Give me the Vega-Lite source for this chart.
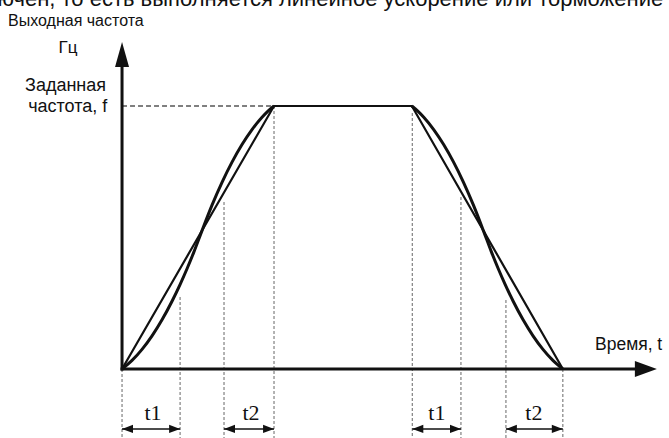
{
  "$schema": "https://vega.github.io/schema/vega-lite/v6.json",
  "width": 669,
  "height": 438,
  "autosize": "none",
  "padding": 0,
  "background": "white",
  "config": {"view": {"stroke": null}},
  "datasets": {
    "scurve": [
      {"phase": "acc", "t": 0, "f": 0},
      {"phase": "acc", "t": 0.658, "f": 3.25},
      {"phase": "acc", "t": 1.316, "f": 7.45},
      {"phase": "acc", "t": 1.974, "f": 12.6},
      {"phase": "acc", "t": 2.632, "f": 18.71},
      {"phase": "acc", "t": 3.289, "f": 25.76},
      {"phase": "acc", "t": 3.816, "f": 32.09},
      {"phase": "acc", "t": 4.276, "f": 38.12},
      {"phase": "acc", "t": 4.737, "f": 44.62},
      {"phase": "acc", "t": 5.263, "f": 52.62},
      {"phase": "acc", "t": 5.921, "f": 62.3},
      {"phase": "acc", "t": 6.579, "f": 70.98},
      {"phase": "acc", "t": 7.237, "f": 78.65},
      {"phase": "acc", "t": 7.895, "f": 85.33},
      {"phase": "acc", "t": 8.553, "f": 91.02},
      {"phase": "acc", "t": 9.211, "f": 95.7},
      {"phase": "acc", "t": 9.605, "f": 98.03},
      {"phase": "acc", "t": 10, "f": 100},
      {"phase": "dec", "t": 19.07, "f": 100},
      {"phase": "dec", "t": 19.462, "f": 98.03},
      {"phase": "dec", "t": 19.854, "f": 95.7},
      {"phase": "dec", "t": 20.507, "f": 91.02},
      {"phase": "dec", "t": 21.161, "f": 85.33},
      {"phase": "dec", "t": 21.815, "f": 78.65},
      {"phase": "dec", "t": 22.468, "f": 70.98},
      {"phase": "dec", "t": 23.122, "f": 62.3},
      {"phase": "dec", "t": 23.776, "f": 52.62},
      {"phase": "dec", "t": 24.298, "f": 44.62},
      {"phase": "dec", "t": 24.756, "f": 38.12},
      {"phase": "dec", "t": 25.213, "f": 32.09},
      {"phase": "dec", "t": 25.737, "f": 25.76},
      {"phase": "dec", "t": 26.39, "f": 18.71},
      {"phase": "dec", "t": 27.043, "f": 12.6},
      {"phase": "dec", "t": 27.697, "f": 7.45},
      {"phase": "dec", "t": 28.35, "f": 3.25},
      {"phase": "dec", "t": 29.004, "f": 0}
    ],
    "linear": [
      {"t": 0, "f": 0},
      {"t": 10, "f": 100},
      {"t": 19.07, "f": 100},
      {"t": 29.004, "f": 0}
    ],
    "vguides": [
      {"t": 0, "f": 0, "f2": -26.3},
      {"t": 3.82, "f": 27.4, "f2": -26.3},
      {"t": 6.71, "f": 63.5, "f2": -26.3},
      {"t": 10, "f": 100, "f2": -26.3},
      {"t": 19.1, "f": 97.3, "f2": -26.3},
      {"t": 22.3, "f": 65.4, "f2": -26.3},
      {"t": 25.26, "f": 26.2, "f2": -26.3},
      {"t": 29.004, "f": 0, "f2": -26.3}
    ],
    "hguide": [{"t": 0, "t2": 10, "f": 100}],
    "axes": [
      {"t": 0, "t2": 0, "f": -0.6, "f2": 116},
      {"t": -0.1, "t2": 33.9, "f": 0, "f2": 0}
    ],
    "dims": [
      {"t": 0, "t2": 3.82, "f": -22.8},
      {"t": 6.71, "t2": 10, "f": -22.8},
      {"t": 19.1, "t2": 22.3, "f": -22.8},
      {"t": 25.26, "t2": 29.004, "f": -22.8}
    ],
    "dimheads": [
      {"t": 0.36, "f": -22.8, "dir": "L"},
      {"t": 3.46, "f": -22.8, "dir": "R"},
      {"t": 7.07, "f": -22.8, "dir": "L"},
      {"t": 9.64, "f": -22.8, "dir": "R"},
      {"t": 19.46, "f": -22.8, "dir": "L"},
      {"t": 21.94, "f": -22.8, "dir": "R"},
      {"t": 25.62, "f": -22.8, "dir": "L"},
      {"t": 28.64, "f": -22.8, "dir": "R"}
    ],
    "yarrow": [{"t": 0, "f": 119.6}],
    "xarrow": [{"t": 34.47, "f": 0}],
    "toplabel": [
      {"t": -7.5, "f": 130.4, "label": "Выходная частота"}
    ],
    "timelabel": [
      {"t": 31.12, "f": 7.2, "label": "Время, t"}
    ],
    "rightlabels": [
      {"t": -1.05, "f": 105.7, "label": "Заданная"},
      {"t": -0.97, "f": 97.6, "label": "частота, f"}
    ],
    "unitlabel": [{"t": -3.55, "f": 120.2, "label": "Гц"}],
    "tlabels": [
      {"t": 2.04, "f": -19.4, "label": "t1"},
      {"t": 8.49, "f": -19.4, "label": "t2"},
      {"t": 20.72, "f": -19.4, "label": "t1"},
      {"t": 27.1, "f": -19.4, "label": "t2"}
    ],
    "toptext": [{"t": -8.2, "f": 138.0, "label": "ючен, то есть выполняется линейное ускорение или торможение"}]
  },
  "encoding": {
    "x": {"field": "t", "type": "quantitative", "scale": {"domain": [-8.03, 35.99], "nice": false, "zero": false}, "axis": null},
    "y": {"field": "f", "type": "quantitative", "scale": {"domain": [-26.24, 140.3], "nice": false, "zero": false}, "axis": null}
  },
  "layer": [
    {
      "data": {"name": "vguides"},
      "mark": {"type": "rule", "color": "#808080", "strokeWidth": 1.2, "strokeDash": [3, 2]},
      "encoding": {"y2": {"field": "f2"}}
    },
    {
      "data": {"name": "hguide"},
      "mark": {"type": "rule", "color": "#555555", "strokeWidth": 1.3, "strokeDash": [5, 3]},
      "encoding": {"x2": {"field": "t2"}}
    },
    {
      "data": {"name": "linear"},
      "mark": {"type": "line", "color": "#111111", "strokeWidth": 2.2},
      "encoding": {"order": {"field": "t"}}
    },
    {
      "data": {"name": "scurve"},
      "mark": {"type": "line", "color": "#111111", "strokeWidth": 3, "interpolate": "monotone"},
      "encoding": {"detail": {"field": "phase"}, "order": {"field": "t"}}
    },
    {
      "data": {"name": "axes"},
      "mark": {"type": "rule", "color": "#111111", "strokeWidth": 3},
      "encoding": {"x2": {"field": "t2"}, "y2": {"field": "f2"}}
    },
    {
      "data": {"name": "yarrow"},
      "mark": {"type": "point", "filled": true, "color": "#111111", "opacity": 1, "shape": "M-0.56,1L0,-1L0.56,1Z", "size": 625}
    },
    {
      "data": {"name": "xarrow"},
      "mark": {"type": "point", "filled": true, "color": "#111111", "opacity": 1, "shape": "M-1,-0.73L1,0L-1,0.73Z", "size": 484}
    },
    {
      "data": {"name": "dims"},
      "mark": {"type": "rule", "color": "#111111", "strokeWidth": 1.5},
      "encoding": {"x2": {"field": "t2"}}
    },
    {
      "data": {"name": "dimheads"},
      "transform": [{"filter": "datum.dir === 'L'"}],
      "mark": {"type": "point", "filled": true, "color": "#111111", "opacity": 1, "shape": "M1,-0.75L-1,0L1,0.75Z", "size": 121}
    },
    {
      "data": {"name": "dimheads"},
      "transform": [{"filter": "datum.dir === 'R'"}],
      "mark": {"type": "point", "filled": true, "color": "#111111", "opacity": 1, "shape": "M-1,-0.75L1,0L-1,0.75Z", "size": 121}
    },
    {
      "data": {"name": "toplabel"},
      "mark": {"type": "text", "align": "left", "baseline": "alphabetic", "font": "Liberation Sans", "fontSize": 16, "color": "#111111"},
      "encoding": {"text": {"field": "label"}}
    },
    {
      "data": {"name": "timelabel"},
      "mark": {"type": "text", "align": "left", "baseline": "alphabetic", "font": "Liberation Sans", "fontSize": 17.5, "color": "#111111"},
      "encoding": {"text": {"field": "label"}}
    },
    {
      "data": {"name": "rightlabels"},
      "mark": {"type": "text", "align": "right", "baseline": "alphabetic", "font": "Liberation Sans", "fontSize": 18, "color": "#111111"},
      "encoding": {"text": {"field": "label"}}
    },
    {
      "data": {"name": "unitlabel"},
      "mark": {"type": "text", "align": "center", "baseline": "alphabetic", "font": "Liberation Sans", "fontSize": 17, "color": "#111111"},
      "encoding": {"text": {"field": "label"}}
    },
    {
      "data": {"name": "tlabels"},
      "mark": {"type": "text", "align": "center", "baseline": "alphabetic", "font": "Liberation Serif", "fontSize": 22, "color": "#111111"},
      "encoding": {"text": {"field": "label"}}
    },
    {
      "data": {"name": "toptext"},
      "mark": {"type": "text", "align": "left", "baseline": "alphabetic", "font": "Liberation Sans", "fontSize": 22, "color": "#111111"},
      "encoding": {"text": {"field": "label"}}
    }
  ]
}
